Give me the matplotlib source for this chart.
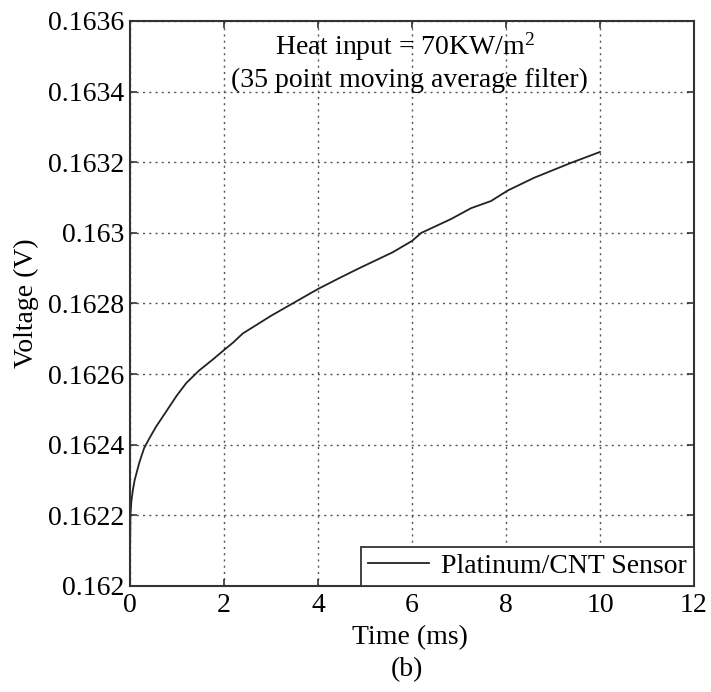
import matplotlib
matplotlib.use("Agg")
import matplotlib.pyplot as plt

# values
time_ms = [0.0, 0.01, 0.03, 0.06, 0.1, 0.15, 0.2, 0.3, 0.4, 0.55, 0.7, 0.85,
           1.0, 1.2, 1.47, 1.75, 2.0, 2.2, 2.4, 2.7, 3.0, 3.46, 4.0, 4.5,
           4.88, 5.59, 6.0, 6.2, 6.83, 7.26, 7.68, 8.04, 8.6, 9.38, 10.0]
voltage = [0.16207, 0.16220, 0.16224, 0.16227, 0.16230, 0.162325, 0.16235,
           0.16239, 0.162415, 0.16245, 0.16248, 0.16251, 0.16254, 0.162575,
           0.16261, 0.16264, 0.162668, 0.16269, 0.162715, 0.16274, 0.162765,
           0.16280, 0.162841, 0.162875, 0.16290, 0.162945, 0.162977, 0.16300,
           0.163039, 0.16307, 0.16309, 0.16312, 0.163156, 0.163198, 0.163229]
xticks = [0, 2, 4, 6, 8, 10, 12]
yticks = [0.162, 0.1622, 0.1624, 0.1626, 0.1628, 0.163, 0.1632, 0.1634, 0.1636]
ytick_labels = ["0.162", "0.1622", "0.1624", "0.1626", "0.1628", "0.163",
                "0.1632", "0.1634", "0.1636"]

plt.rcParams['font.family'] = ['Liberation Serif', 'DejaVu Serif']
plt.rcParams['mathtext.fontset'] = 'custom'
plt.rcParams['mathtext.rm'] = 'Liberation Serif'
plt.rcParams['mathtext.it'] = 'Liberation Serif:italic'
fs = 20

fig = plt.figure(figsize=(7.11, 6.92), dpi=100)
ax = fig.add_axes([0.1828, 0.1532, 0.7932, 0.8165])

ax.plot(time_ms, voltage, color='#222222', lw=1.3, label='Platinum/CNT Sensor')

ax.set_xlim(0, 12)
ax.set_ylim(0.162, 0.1636)
ax.set_xticks(xticks)
ax.set_xticklabels([str(v) for v in xticks])
ax.set_yticks(yticks)
ax.set_yticklabels(ytick_labels)
ax.tick_params(direction='in', top=True, right=True, length=5, width=1.2,
               labelsize=fs, color='#333333')
ax.tick_params(axis='x', pad=5)
ax.tick_params(axis='y', pad=4)
ax.grid(True, linestyle=(0, (1.5, 3)), color='#555555', lw=1.0)
for s in ax.spines.values():
    s.set_linewidth(1.5)
    s.set_color('#333333')

ax.set_xlabel('Time (ms)', fontsize=fs)
ax.xaxis.label.set_va('center')
ax.xaxis.set_label_coords(0.497, -0.091)
ax.set_ylabel('Voltage (V)', fontsize=fs)
ax.yaxis.label.set_va('center')
ax.yaxis.set_label_coords(-0.184, 0.5)

ax.text(0.488, 0.955, r'Heat input = 70KW/m$^\mathrm{2}$', transform=ax.transAxes,
        ha='center', va='center', fontsize=fs)
ax.text(0.496, 0.895, '(35 point moving average filter)', transform=ax.transAxes,
        ha='center', va='center', fontsize=fs)

leg = ax.legend(loc='lower right', fontsize=fs, fancybox=False, framealpha=1,
                edgecolor='#333333', borderaxespad=0, handlelength=2.2,
                borderpad=0.25, handletextpad=0.45)
leg.get_frame().set_linewidth(1.3)

fig.text(0.572, 0.032, '(b)', ha='center', va='center', fontsize=fs)

fig.savefig('out.png', dpi=100)
